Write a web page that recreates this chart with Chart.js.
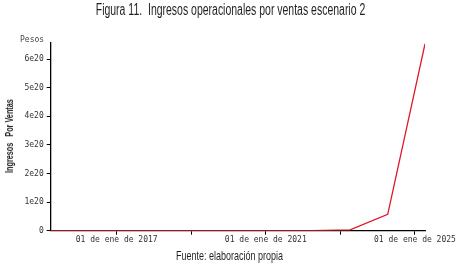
<!DOCTYPE html>
<html>
<head>
<meta charset="utf-8">
<script src="https://cdn.jsdelivr.net/npm/chart.js@4.4.0/dist/chart.umd.min.js"></script>
<style>
  html, body { margin: 0; padding: 0; background: #fff; }
  #wrap { position: relative; width: 461px; height: 267px; overflow: hidden; }
  #chart { position: absolute; left: 0; top: 0; }
  .txt { position: absolute; left: 0; width: 461px; text-align: center; color: #231f20;
         font-family: "Liberation Sans", sans-serif; white-space: nowrap; transform-origin: 230.5px 50%; }
  #title { top: 1px; font-size: 16px; transform: scaleX(0.655); }
  #footer { top: 247.5px; font-size: 13.5px; left: -1px; transform: scaleX(0.665); }
  #unit { position: absolute; left: 20px; top: 35px; font: 8px "DejaVu Sans Mono", monospace; color: #444; }
  #ytitle { position: absolute; left: 8.5px; top: 136px; width: 0; height: 0; }
  #ytitle span { position: absolute; left: 0; top: 0; white-space: nowrap; color: #231f20;
                 font: bold 11px "Liberation Sans", sans-serif;
                 transform: translate(-50%, -50%) rotate(-90deg) scaleX(0.66); }
</style>
</head>
<body>
<div id="wrap">
  <canvas id="chart" width="461" height="267"></canvas>
  <div class="txt" id="title">Figura 11.&nbsp; Ingresos operacionales por ventas escenario 2</div>
  <div id="unit">Pesos</div>
  <div id="ytitle"><span>Ingresos&nbsp;&nbsp; Por Ventas</span></div>
  <div class="txt" id="footer">Fuente: elaboración propia</div>
</div>
<script>
// fechas como año decimal (aprox. abril de cada año)
const fechas = [2015.23, 2016.23, 2017.23, 2018.23, 2019.23, 2020.23, 2021.23, 2022.23, 2023.26, 2024.27, 2025.27];
// ingresos en pesos
const ingresos = [0, 0, 0, 1e15, 5e15, 2e16, 8e16, 3e17, 3e18, 5.7e19, 6.53e20];

const xTicks = [2017, 2019, 2021, 2023, 2025];
const xTickLabels = ['01 de ene de 2017', '', '01 de ene de 2021', '', '01 de ene de 2025'];
const yTicks = [0, 1e20, 2e20, 3e20, 4e20, 5e20, 6e20];
const yTickLabels = ['0', '1e20', '2e20', '3e20', '4e20', '5e20', '6e20'];

const tickFont = { family: 'DejaVu Sans Mono', size: 8 };

const data = {
    datasets: [{
        label: 'Ingresos',
        data: fechas.map((f, i) => ({ x: f, y: ingresos[i] })),
        borderColor: 'rgb(222,24,40)',
        borderWidth: 1.3,
        pointRadius: 0,
        tension: 0,
        fill: false
    }]
};

const config = {
    type: 'line',
    data,
    options: {
        responsive: false,
        animation: false,
        layout: { padding: { left: 0, right: 36, top: 42.7, bottom: 0 } },
        plugins: { legend: { display: false }, tooltip: { enabled: false } },
        scales: {
            x: {
                type: 'linear',
                min: 2015.23,
                max: 2025.27,
                afterBuildTicks: s => { s.ticks = xTicks.map(v => ({ value: v })); },
                afterFit: s => { s.height = 267 - 230.7; },
                ticks: {
                    font: tickFont,
                    color: '#333',
                    padding: 0,
                    maxRotation: 0,
                    autoSkip: false,
                    callback: (v, i) => xTickLabels[i]
                },
                grid: { drawOnChartArea: false, drawTicks: true, tickLength: 4, color: '#000' },
                border: { color: '#000', width: 1.3 }
            },
            y: {
                min: 0,
                max: 6.57e20,
                afterBuildTicks: s => { s.ticks = yTicks.map(v => ({ value: v })); },
                afterFit: s => { s.width = 50.7; },
                ticks: {
                    font: tickFont,
                    color: '#333',
                    padding: 3,
                    callback: (v, i) => yTickLabels[i]
                },
                grid: { drawOnChartArea: false, drawTicks: true, tickLength: 4, color: '#000' },
                border: { color: '#000', width: 1.3 }
            }
        }
    }
};

const chart = new Chart(document.getElementById('chart'), config);
</script>
</body>
</html>
